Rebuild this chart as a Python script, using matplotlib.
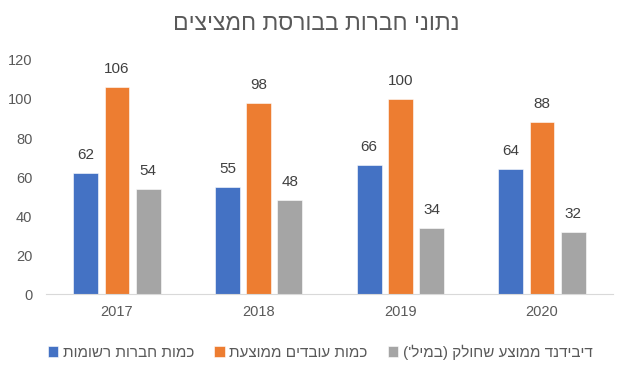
import matplotlib
matplotlib.use("Agg")
import matplotlib.pyplot as plt
import numpy as np

# data
years = ["2017", "2018", "2019", "2020"]
companies = [62, 55, 66, 64]
employees = [106, 98, 100, 88]
dividend = [54, 48, 34, 32]

title = "נתוני חברות בבורסת חמציצים"
series_names = ["כמות חברות רשומות", "כמות עובדים ממוצעת", "דיבידנד ממוצע שחולק (במיל')"]
colors = ["#4472C4", "#ED7D31", "#A5A5A5"]


def rtl(s):
    # matplotlib has no bidi, so flip the string and mirror brackets
    swap = {"(": ")", ")": "("}
    return "".join(swap.get(c, c) for c in s[::-1])


plt.rcParams['font.family'] = ['Liberation Sans', 'DejaVu Sans']

fig = plt.figure(figsize=(6.24, 3.68), dpi=100)
ax = fig.add_axes([0.074, 0.201, 0.908, 0.636])

x = np.arange(len(years))
w = 0.175
step = 0.22
handles = []
for i, vals in enumerate([companies, employees, dividend]):
    bars = ax.bar(x + (i - 1) * step, vals, width=w, color=colors[i],
                  edgecolor="white", linewidth=0.4, label=rtl(series_names[i]))
    handles.append(bars)
    for b, v in zip(bars, vals):
        ax.annotate(str(v), (b.get_x() + b.get_width() / 2, v),
                    xytext=(0, 8), textcoords="offset points",
                    ha="center", va="bottom", fontsize=11, color="#404040")

ax.set_ylim(0, 120)
ax.set_xlim(-0.5, len(years) - 0.5)
ax.set_yticks(range(0, 121, 20))
ax.set_xticks(x)
ax.set_xticklabels(years)
ax.tick_params(axis="both", length=0, labelsize=10.5, colors="#595959", pad=8)
ax.tick_params(axis="y", pad=10)
for s in ["top", "right", "left"]:
    ax.spines[s].set_visible(False)
ax.spines["bottom"].set_color("#D9D9D9")

fig.text(0.507, 0.935, rtl(title), ha="center", va="center",
         fontsize=16.5, color="#595959")

fig.legend(handles, [rtl(n) for n in series_names],
           loc="center", bbox_to_anchor=(0.513, 0.043), ncol=3,
           frameon=False, fontsize=11, labelcolor="#595959",
           handlelength=0.7, handleheight=0.7, handletextpad=0.3,
           columnspacing=1.3)

fig.savefig("out.png", dpi=100)
